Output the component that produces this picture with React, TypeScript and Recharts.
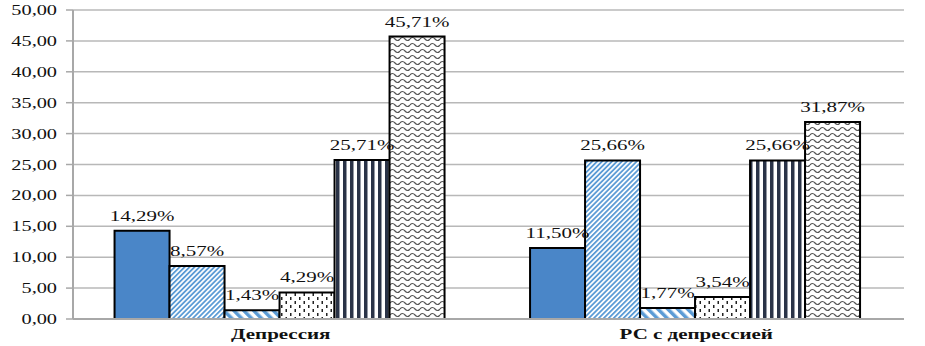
import React from 'react';
import {
  BarChart, Bar, XAxis, YAxis, CartesianGrid, LabelList,
} from 'recharts';

const categories = ['Депрессия', 'РС с депрессией'];
const series1 = [14.29, 11.5];
const series2 = [8.57, 25.66];
const series3 = [1.43, 1.77];
const series4 = [4.29, 3.54];
const series5 = [25.71, 25.66];
const series6 = [45.71, 31.87];
const yTicks = [0, 5, 10, 15, 20, 25, 30, 35, 40, 45, 50];

const data = categories.map((name, i) => ({
  name,
  s1: series1[i],
  s2: series2[i],
  s3: series3[i],
  s4: series4[i],
  s5: series5[i],
  s6: series6[i],
}));

const FONT = '"Liberation Serif", "Times New Roman", serif';
const STRETCH = 1.4;

const fmt = (v: number) => v.toFixed(2).replace('.', ',');

const YTick = (props: any) => {
  const { x, y, payload } = props;
  return (
    <text
      transform={`translate(${x},${y + 5}) scale(${STRETCH},1)`}
      textAnchor="end"
      fontFamily={FONT}
      fontSize={14.5}
      fill="#111"
    >
      {fmt(payload.value)}
    </text>
  );
};

const XTick = (props: any) => {
  const { x, y, payload } = props;
  return (
    <text
      transform={`translate(${x},${y + 18}) scale(1.5,1)`}
      textAnchor="middle"
      fontFamily={FONT}
      fontSize={14}
      fontWeight="bold"
      fill="#111"
    >
      {payload.value}
    </text>
  );
};

const TopLabel = (props: any) => {
  const { x, y, width, value } = props;
  return (
    <text
      transform={`translate(${x + width / 2},${y - 10}) scale(${STRETCH},1)`}
      textAnchor="middle"
      fontFamily={FONT}
      fontSize={15}
      fill="#111"
    >
      {fmt(value) + '%'}
    </text>
  );
};

const keys = ['s1', 's2', 's3', 's4', 's5', 's6'];
const fills = ['#4a86c8', 'url(#pDiag)', 'url(#pDiagWide)', 'url(#pDots)', 'url(#pVert)', 'url(#pWave)'];

export default function App() {
  return (
    <div style={{ position: 'absolute', left: 0, top: 0, background: '#fff' }}>
      <BarChart
        width={925}
        height={346}
        data={data}
        margin={{ top: 10, right: 21, left: 0, bottom: 0 }}
        barCategoryGap="10%"
        barGap={0}
      >
        <defs>
          <pattern id="pDiag" width="3.5" height="3.5" patternUnits="userSpaceOnUse" patternTransform="rotate(45)">
            <rect width="3.5" height="3.5" fill="#ffffff" />
            <rect width="1.8" height="3.5" fill="#5b9bd5" />
          </pattern>
          <pattern id="pDiagWide" width="7" height="7" patternUnits="userSpaceOnUse" patternTransform="rotate(-45)">
            <rect width="7" height="7" fill="#ffffff" />
            <rect width="3.5" height="7" fill="#5b9bd5" />
          </pattern>
          <pattern id="pDots" width="9" height="8" patternUnits="userSpaceOnUse">
            <rect width="9" height="8" fill="#ffffff" />
            <rect x="2" y="1" width="1.5" height="3" fill="#222" />
            <rect x="6.5" y="5" width="1.5" height="3" fill="#222" />
          </pattern>
          <pattern id="pVert" width="7" height="6" patternUnits="userSpaceOnUse">
            <rect width="7" height="6" fill="#ffffff" />
            <rect width="3.5" height="6" fill="#2a3347" />
          </pattern>
          <pattern id="pWave" width="10" height="6" patternUnits="userSpaceOnUse">
            <rect width="10" height="6" fill="#ffffff" />
            <path d="M0 3 Q2.5 0 5 3 T10 3" fill="none" stroke="#555" strokeWidth="1.2" />
          </pattern>
        </defs>
        <CartesianGrid vertical={false} stroke="#b8b8b8" strokeWidth={1.5} />
        <XAxis
          dataKey="name"
          height={27}
          tickLine={false}
          tickSize={0}
          axisLine={{ stroke: '#a8a8a8', strokeWidth: 2 }}
          tick={<XTick />}
        />
        <YAxis
          width={73}
          domain={[0, 50]}
          ticks={yTicks}
          interval={0}
          tickSize={7}
          tickMargin={9}
          tickLine={{ stroke: '#a8a8a8', strokeWidth: 1.5 }}
          axisLine={{ stroke: '#a8a8a8', strokeWidth: 2 }}
          tick={<YTick />}
        />
        {keys.map((k, i) => (
          <Bar
            key={k}
            dataKey={k}
            fill={fills[i]}
            stroke="#000"
            strokeWidth={2}
            isAnimationActive={false}
          >
            <LabelList dataKey={k} content={<TopLabel />} />
          </Bar>
        ))}
      </BarChart>
    </div>
  );
}
